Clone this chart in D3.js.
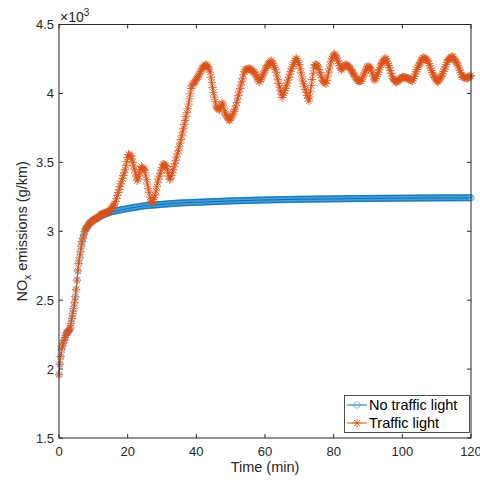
<!DOCTYPE html>
<html><head><meta charset="utf-8">
<script src="https://cdn.jsdelivr.net/npm/d3@7"></script>
<style>body{margin:0;background:#fff}svg{display:block;font-family:"Liberation Sans",Arial,sans-serif}</style>
</head><body><svg id="c" width="480" height="480"></svg>
<script>
// Data (values in units of 10^3 g/km)
const timeNoLight = [0,0.3,0.8,1.5,2.2,3.2,4.2,4.9,5.6,6.6,7.6,9,10,11.4,13,15,18,20,25,30,35,40,50,60,70,80,90,100,110,120];
const valNoLight  = [1.96,2.05,2.15,2.21,2.26,2.29,2.43,2.55,2.74,2.91,3.01,3.06,3.08,3.10,3.12,3.14,3.155,3.165,3.185,3.195,3.205,3.21,3.22,3.227,3.232,3.235,3.238,3.24,3.242,3.243];
const timeLight = [0,0.3,0.8,1.5,2.2,3.2,4.2,4.9,5.6,6.6,7.6,9,10,11.4,12,13.4,14.8,16.3,17.7,19.2,20.2,21.1,22.1,22.8,24,25,26,26.9,27.9,28.9,30.3,31.3,32.3,33.2,34.7,36.1,37.6,38.6,40.5,41.9,42.9,43.9,44.9,45.8,46.8,47.6,48.3,49.7,51.2,52.6,54.1,55.5,57,58.4,60.4,61.8,63.1,64.2,65,66.2,67.6,69.1,70,71,72.8,74.4,75.4,76.8,77.8,79.3,80.2,81.2,82.2,83.4,84.6,85.6,87,88,89.9,90.9,91.9,92.8,93.8,95.1,96.2,97.2,98.2,100.1,101.6,103,104.5,106,107.4,108.9,110.3,111.7,113.2,114.6,116.1,117.5,119,120];
const valLight  = [1.96,2.05,2.15,2.21,2.26,2.29,2.43,2.55,2.74,2.91,3.01,3.06,3.08,3.10,3.12,3.13,3.15,3.20,3.32,3.44,3.56,3.54,3.44,3.36,3.47,3.44,3.31,3.20,3.25,3.37,3.49,3.47,3.37,3.44,3.58,3.73,3.90,4.05,4.12,4.19,4.21,4.17,4.02,3.90,3.88,3.94,3.86,3.80,3.88,4.02,4.17,4.18,4.15,4.08,4.19,4.24,4.17,4.05,3.97,4.05,4.17,4.26,4.21,4.09,3.94,4.21,4.20,4.09,4.07,4.24,4.29,4.24,4.17,4.21,4.19,4.15,4.09,4.09,4.20,4.18,4.09,4.14,4.21,4.26,4.19,4.11,4.08,4.12,4.11,4.09,4.19,4.26,4.24,4.14,4.08,4.14,4.24,4.27,4.21,4.12,4.11,4.13];
const xTicks = [0,20,40,60,80,100,120];
const yTicks = [1.5,2,2.5,3,3.5,4,4.5];
const seriesNames = ["No traffic light","Traffic light"];

const svg = d3.select("#c");
const L=59, R=471, T=24.5, B=438;
const x = d3.scaleLinear().domain([0,120]).range([L,R]);
const y = d3.scaleLinear().domain([1.5,4.5]).range([B,T]);
const axisCol = "#262626";
const blue = "#0072BD", orange = "#D95319";

const circ = "M3.2,0A3.2,3.2 0 1 1 -3.2,0A3.2,3.2 0 1 1 3.2,0Z";
const star = "M-4.2,0H4.2M0,-4.2V4.2M-3,-3L3,3M-3,3L3,-3";

function drawSeries(ts, vs, col, shape, sw, op) {
  const pts = ts.map((t,i)=>[t,vs[i]]);
  const g = svg.append("g");
  g.append("path").datum(pts).attr("fill","none").attr("stroke",col).attr("stroke-width",1)
    .attr("d", d3.line().x(d=>x(d[0])).y(d=>y(d[1])));
  // marker positions along the drawn polyline at equal time steps
  const along = d3.scaleLinear().domain(ts).range(vs);
  const mt = d3.range(0,120.001,0.25);
  g.selectAll("path.m").data(mt).join("path").attr("class","m")
    .attr("transform",t=>`translate(${x(t)},${y(along(t))})`)
    .attr("d",shape).attr("fill","none").attr("stroke",col).attr("stroke-width",sw).attr("stroke-opacity",op);
}
drawSeries(timeNoLight, valNoLight, blue, circ, 0.6, 0.7);
drawSeries(timeLight, valLight, orange, star, 1, 0.8);

// Axes box
const ax = svg.append("g").attr("stroke",axisCol).attr("fill","none");
ax.append("rect").attr("x",L).attr("y",T).attr("width",R-L).attr("height",B-T).attr("stroke-width",1);
xTicks.forEach(t=>{
  ax.append("line").attr("x1",x(t)).attr("x2",x(t)).attr("y1",B).attr("y2",B-4);
  ax.append("line").attr("x1",x(t)).attr("x2",x(t)).attr("y1",T).attr("y2",T+4);
});
yTicks.forEach(v=>{
  ax.append("line").attr("x1",L).attr("x2",L+4).attr("y1",y(v)).attr("y2",y(v));
  ax.append("line").attr("x1",R).attr("x2",R-4).attr("y1",y(v)).attr("y2",y(v));
});
const tx = svg.append("g").attr("fill",axisCol).attr("font-size","13px");
xTicks.forEach(t=>tx.append("text").attr("x",x(t)).attr("y",456).attr("text-anchor","middle").text(t));
yTicks.forEach(v=>tx.append("text").attr("x",54).attr("y",y(v)+4.5).attr("text-anchor","end").text(v));
// multiplier
const mul = svg.append("text").attr("x",60).attr("y",22).attr("fill",axisCol).attr("font-size","14px");
mul.append("tspan").text("\u00d710");
mul.append("tspan").attr("font-size","10px").attr("dy",-6).text("3");
// axis labels
svg.append("text").attr("x",(L+R)/2).attr("y",472).attr("text-anchor","middle").attr("fill",axisCol).attr("font-size","14.5px").text("Time (min)");
const yl = svg.append("text").attr("transform",`translate(27,${(T+B)/2}) rotate(-90)`).attr("text-anchor","middle").attr("fill",axisCol).attr("font-size","14.5px");
yl.append("tspan").text("NO");
yl.append("tspan").attr("font-size","10px").attr("dy",4).text("x");
yl.append("tspan").attr("dy",-4).text(" emissions (g/km)");

// Legend
const lg = svg.append("g");
lg.append("rect").attr("x",344.5).attr("y",395.5).attr("width",125).attr("height",37).attr("fill","#fff").attr("stroke",axisCol).attr("stroke-width",0.8);
[[blue,circ,0.6,0.7],[orange,star,1,0.8]].forEach((s,i)=>{
  const yy = 405 + i*18;
  lg.append("line").attr("x1",347).attr("x2",367).attr("y1",yy).attr("y2",yy).attr("stroke",s[0]).attr("stroke-width",1);
  lg.append("path").attr("transform",`translate(357,${yy})`).attr("d",s[1]).attr("fill","none").attr("stroke",s[0]).attr("stroke-width",s[2]).attr("stroke-opacity",s[3]);
  lg.append("text").attr("x",369).attr("y",yy+5).attr("fill","#000").attr("font-size","14.5px").text(seriesNames[i]);
});
</script></body></html>
